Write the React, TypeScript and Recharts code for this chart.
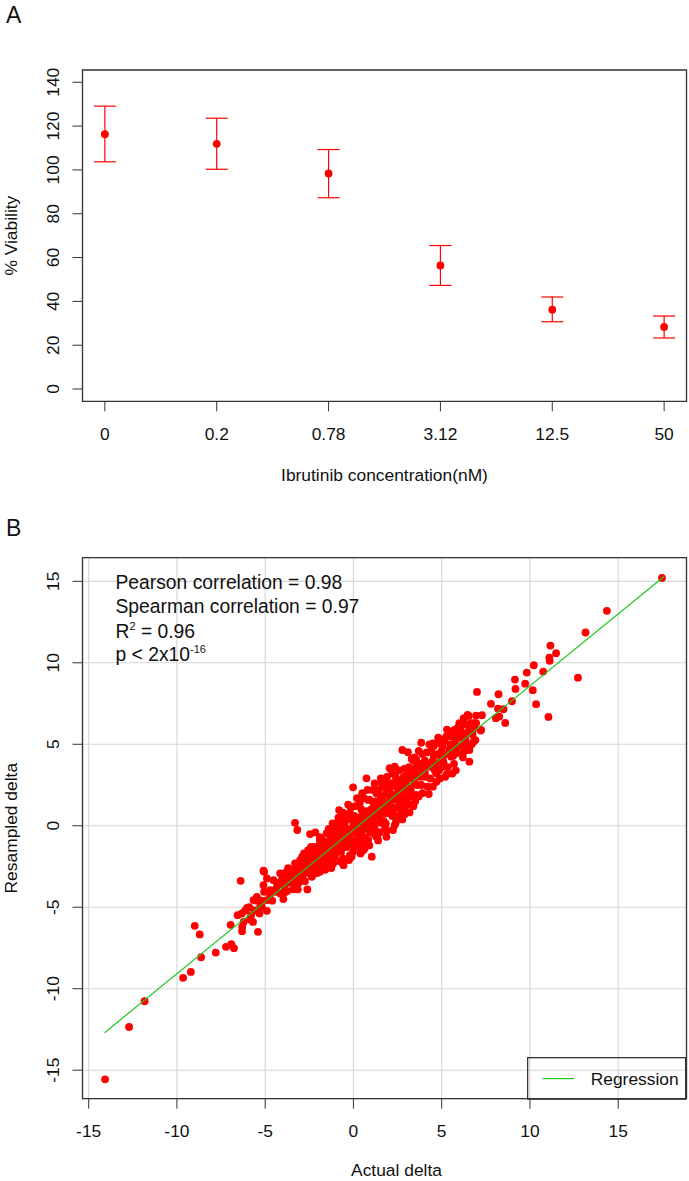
import {
  ComposedChart,
  Scatter,
  XAxis,
  YAxis,
  ErrorBar,
  CartesianGrid,
  ReferenceArea,
  Label,
  Legend,
} from 'recharts';

const FONT = '"Liberation Sans", Arial, Helvetica, sans-serif';
const RED = '#ff0000';
const GREEN = '#1ec81e';
const INK = '#333333';
const TEXT = '#111111';

// panel A: viability by ibrutinib dose
const concLabels = ['0', '0.2', '0.78', '3.12', '12.5', '50'];
const viabilityMean = [116.3, 111.9, 98.4, 56.4, 36.2, 28.3];
const viabilityLow = [103.7, 100.3, 87.3, 47.3, 30.7, 23.3];
const viabilityHigh = [129.1, 123.6, 109.3, 65.5, 42.0, 33.3];
const viabilityTicks = [0, 20, 40, 60, 80, 100, 120, 140];

// panel B: actual vs resampled delta
const deltaTicks = [-15, -10, -5, 0, 5, 10, 15];
const regressionX = [-14.1, 17.6];
const regressionY = [-12.7, 15.3];
const statLines = ['Pearson correlation = 0.98', 'Spearman correlation = 0.97'];

// [actual, resampled]
const deltaPoints: [number, number][] = [
  // lower tail
  [-14.07, -15.56], [-12.71, -12.35], [-11.83, -10.77], [-9.65, -9.33], [-9.21, -8.97],
  [-8.99, -6.14], [-8.71, -6.67], [-8.63, -8.07], [-7.8, -7.78], [-7.22, -7.43],
  [-6.92, -7.27], [-6.77, -7.51], [-6.96, -6.08], [-6.39, -3.38], [-6.31, -6.47],
  [-5.41, -6.51],
  // -6.6 .. -3.5
  [-6.56, -5.49], [-6.32, -5.38], [-6.03, -5.04], [-6.22, -5.9], [-6.3, -6.2],
  [-5.85, -5.75], [-5.69, -5.9], [-5.51, -4.6], [-5.32, -5.38], [-5.19, -4.97],
  [-4.9, -5.22], [-5.06, -4.05], [-5.1, -3.64], [-5.06, -2.83], [-4.9, -3.23],
  [-4.72, -4.2], [-4.44, -4.05], [-4.15, -4.15], [-3.87, -3.54], [-3.97, -4.5],
  [-6.13, -5.2], [-5.66, -4.56], [-5.47, -4.36], [-5.28, -4.97], [-4.9, -4.56],
  [-5.1, -2.76], [-4.72, -3.95], [-4.34, -3.75], [-4.53, -3.34], [-4.06, -3.34],
  [-4.15, -2.92], [-3.87, -3.95], [-3.78, -2.83], [-3.59, -2.72],
  [-5.6, -5.2], [-5.8, -5.5], [-5.2, -4.6], [-5.9, -5.0], [-4.5, -4.0], [-4.6, -4.6], [-4.3, -3.5],
  // -4 .. 0
  [-3.31, -2.31], [-3.02, -2.52], [-3.02, -2.11], [-3.21, -3.13], [-2.61, -3.91],
  [-2.36, -3.13], [-2.65, -1.9], [-2.56, -1.49], [-2.27, -1.29], [-1.9, -2.83],
  [-1.9, -1.7], [-2.08, -2.11], [-1.61, -2.21], [-1.43, -1.29], [-1.15, -2.31],
  [-1.05, -1.7], [-0.96, -0.88], [-1.9, -0.88], [-1.52, -0.47], [-1.15, -0.06],
  [-0.58, 0.35], [-0.2, 0.76], [-0.39, -1.29], [-0.77, -0.26], [-0.56, -2.42],
  [-0.02, -1.6], [-0.2, -1.8],
  [-3.31, 0.18], [-3.18, -0.26], [-2.46, -0.51], [-2.16, -0.41], [-0.81, 0.96],
  [-1.18, 0.15], [-0.02, 2.36],
  [-4.0, -3.6], [-3.9, -4.1], [-3.8, -3.3], [-3.5, -3.0], [-3.6, -3.5], [-3.4, -3.9],
  [-3.3, -2.8], [-3.0, -2.7], [-2.9, -3.2], [-3.1, -3.5], [-2.8, -2.4], [-2.5, -2.0],
  [-2.6, -2.6], [-2.4, -2.9], [-2.3, -1.7], [-2.45, -2.3], [-2.0, -1.5], [-2.1, -2.4],
  [-1.95, -2.0], [-1.8, -1.3], [-2.2, -1.6], [-1.85, -2.6], [-1.5, -1.0], [-1.6, -1.8],
  [-1.45, -2.4], [-1.35, -1.4], [-1.7, -1.2], [-1.3, -0.7], [-1.0, -0.6], [-1.1, -1.2],
  [-0.9, -1.6], [-1.2, -0.3], [-0.8, -0.9], [-1.05, -1.9], [-0.5, -0.2], [-0.6, -0.9],
  [-0.4, -1.3], [-0.45, 0.3], [-0.3, -0.6], [-0.7, -0.1],
  [-2.7, -2.2], [-2.2, -2.7], [-1.7, -2.0], [-1.2, -1.5], [-0.7, -1.6], [-0.2, -0.5],
  [-3.7, -2.6], [-3.3, -3.6], [-2.9, -1.9], [-2.4, -1.3], [-1.9, -0.7], [-1.4, -0.2],
  [-0.9, 0.2], [-0.4, 0.7], [-0.6, -2.0], [-0.1, -1.9],
  [-3.95, -3.2], [-3.75, -4.0], [-3.65, -3.0], [-3.45, -3.3], [-3.25, -2.5], [-3.15, -3.9],
  [-3.05, -3.0], [-3.85, -2.9], [-2.95, -2.3], [-2.85, -2.9], [-2.75, -3.4], [-2.65, -2.3],
  [-2.55, -2.9], [-2.35, -2.4], [-2.25, -2.2], [-2.15, -1.9], [-2.05, -2.9], [-2.5, -1.6],
  [-2.8, -1.7], [-2.3, -3.0], [-1.95, -1.2], [-1.85, -1.9], [-1.75, -2.4], [-1.65, -1.5],
  [-1.55, -1.2], [-1.45, -1.7], [-1.35, -2.0], [-1.25, -1.0], [-1.15, -1.5], [-1.05, -0.9],
  [-1.75, -0.9], [-1.25, -2.6], [-1.6, -2.7], [-1.35, -0.4], [-1.9, -2.3], [-0.95, -1.2],
  [-0.85, -0.5], [-0.75, -1.2], [-0.65, -0.6], [-0.55, -1.1], [-0.45, -0.8], [-0.35, -0.2],
  [-0.25, -1.0], [-0.15, -0.4], [-0.05, -1.2], [-0.85, 0.5], [-0.6, 0.8], [-0.3, 1.3],
  [-0.1, 0.4], [-0.75, -2.2], [-0.25, -2.1], [-0.5, 0.0],
  // 0 .. 4
  [0.36, 1.38], [0.83, 1.58], [1.3, 1.99], [1.68, 2.4], [2.24, 2.6], [2.71, 2.19],
  [1.3, 1.17], [1.49, 0.55], [1.87, 0.76], [2.24, 0.96], [2.62, 1.17], [0.17, -0.47],
  [0.55, 0.15], [1.04, -1.9], [0.64, -1.39], [1.3, -0.68], [1.87, -0.68], [2.24, -0.26],
  [2.77, 0.39], [3.18, 0.82], [3.0, 1.58], [1.68, 0.15], [1.11, 0.15], [0.83, -0.88],
  [0.46, -0.98], [0.74, 2.91], [1.55, 2.91], [1.43, 2.19], [2.05, 3.53], [2.34, 3.62],
  [3.18, 1.78], [2.8, 1.58], [3.0, 1.27], [2.62, 0.55], [2.34, 0.04], [1.83, 0.15],
  [1.34, -0.68],
  [0.0, 0.1], [0.1, -0.4], [-0.1, -0.9], [0.05, 0.6], [0.2, 0.2], [0.15, -1.2],
  [-0.15, 1.1], [0.5, 0.6], [0.6, -0.2], [0.45, 1.0], [0.4, -0.6], [0.7, 0.3],
  [0.55, -1.5], [1.0, 1.0], [1.1, 0.4], [0.9, 1.6], [1.2, -0.2], [0.95, 0.2],
  [1.15, 1.3], [1.5, 1.4], [1.6, 0.8], [1.4, 2.0], [1.7, 0.3], [1.55, 1.8],
  [1.35, 0.7], [2.0, 1.9], [2.1, 1.2], [1.9, 2.6], [2.2, 0.6], [2.05, 2.2],
  [2.3, 1.6], [2.5, 2.3], [2.6, 1.5], [2.4, 3.0], [2.7, 0.9], [2.55, 2.8],
  [2.45, 1.9], [3.0, 2.8], [3.1, 2.0], [2.9, 3.5], [3.2, 1.3], [3.05, 3.2],
  [2.95, 2.5], [3.5, 3.2], [3.6, 2.5], [3.4, 4.0], [3.7, 1.8], [3.55, 3.6], [3.3, 2.9],
  [0.3, 0.0], [0.8, 0.5], [1.3, 0.9], [1.8, 1.3], [0.1, 1.2], [0.6, 1.7], [1.1, 2.2],
  [0.4, -1.7], [0.9, -1.2], [1.4, -0.9], [1.9, -0.3], [2.4, 0.2], [2.9, 0.7], [3.4, 1.2],
  [0.05, -0.2], [0.15, 0.4], [0.25, -0.8], [0.35, 0.5], [0.45, -0.3], [0.55, 0.6],
  [0.65, -0.7], [0.75, 0.9], [0.85, 0.0], [0.95, 0.8], [0.2, 1.7], [0.5, 2.0],
  [0.8, 2.2], [0.3, -1.3], [0.7, -1.0], [0.95, -0.4], [1.05, 0.7], [1.15, -0.5],
  [1.25, 1.5], [1.35, 1.1], [1.45, 0.2], [1.55, 1.0], [1.65, 1.6], [1.75, 0.9],
  [1.85, 2.0], [1.95, 0.9], [1.2, 2.6], [1.6, 2.6], [1.9, 3.0], [1.5, -0.4],
  [1.8, -0.1], [2.05, 1.5], [2.15, 2.6], [2.25, 1.9], [2.35, 1.1], [2.45, 2.4],
  [2.55, 1.2], [2.65, 2.6], [2.75, 1.8], [2.85, 3.0], [2.95, 1.5], [2.2, 3.2],
  [2.6, 3.4], [2.5, 0.6], [2.85, 1.0], [3.05, 2.4], [3.15, 3.6], [3.25, 2.2],
  [3.35, 3.4], [3.45, 2.6], [3.55, 1.9], [3.65, 3.0], [3.75, 3.8], [3.85, 2.5],
  [3.95, 3.3], [3.3, 4.1], [3.7, 4.6], [3.5, 1.5], [3.9, 2.0],
  // 4 .. 8.6
  [2.77, 4.65], [3.09, 4.51], [3.84, 5.1], [3.47, 4.2], [4.27, 1.95], [5.29, 3.16],
  [6.57, 3.93], [7.23, 5.88], [4.5, 5.06], [5.72, 5.88], [6.47, 6.8], [6.38, 5.06],
  [6.57, 4.65], [6.19, 4.45], [5.82, 4.45], [5.54, 4.24], [5.06, 4.34], [4.88, 5.06],
  [5.25, 5.47], [4.41, 3.62], [4.69, 3.22], [5.06, 3.62], [3.84, 3.42], [3.56, 4.04],
  [4.0, 3.6], [4.1, 3.0], [3.9, 4.4], [4.2, 2.4], [4.05, 4.0], [3.85, 3.0],
  [4.5, 4.0], [4.6, 3.4], [4.4, 4.6], [4.7, 2.7], [4.55, 4.3], [5.0, 4.6],
  [5.1, 3.9], [4.9, 5.3], [5.2, 3.0], [5.05, 4.9], [5.5, 5.0], [5.6, 4.4],
  [5.4, 5.7], [5.7, 3.8], [5.55, 4.8], [6.0, 5.4], [6.1, 4.9], [5.9, 6.0], [6.2, 4.2],
  [4.05, 3.3], [4.15, 4.5], [4.25, 3.7], [4.35, 2.9], [4.45, 3.9], [4.55, 4.9],
  [4.65, 3.8], [4.75, 4.4], [4.85, 3.4], [4.95, 4.0], [4.3, 5.0], [4.8, 5.4],
  [4.5, 2.4], [4.9, 2.9], [5.05, 4.1], [5.15, 5.2], [5.25, 4.4], [5.35, 3.6],
  [5.45, 4.7], [5.55, 5.5], [5.65, 4.3], [5.75, 5.2], [5.85, 4.8], [5.95, 5.6],
  [5.3, 5.9], [5.8, 3.4], [5.6, 3.2], [6.05, 5.9], [6.15, 5.5], [6.25, 6.6],
  [6.35, 5.3], [6.45, 6.2], [6.65, 6.3], [6.75, 5.6], [6.85, 6.0], [6.95, 6.3],
  [6.3, 4.6], [6.7, 5.0],
  [7.21, 5.84], [7.28, 6.78], [6.95, 6.76], [6.53, 6.74], [6.8, 6.29], [6.0, 6.29],
  [6.19, 6.19], [5.82, 5.88], [6.38, 5.68], [6.57, 5.98], [6.8, 5.16], [6.91, 5.26],
  [5.37, 5.47], [7.0, 8.21], [7.79, 7.48], [8.19, 7.19], [8.5, 7.15], [8.26, 6.7],
  [8.07, 6.6], [8.6, 6.31],
  // upper tail
  [8.22, 8.07], [8.98, 7.64], [9.15, 8.97], [9.18, 8.4], [9.73, 8.72], [9.82, 9.4],
  [10.16, 8.32], [10.35, 7.46], [10.22, 9.85], [10.75, 9.46], [11.05, 6.68], [11.1, 10.32],
  [11.12, 10.12], [11.48, 10.59], [11.16, 11.06], [12.72, 9.09], [13.15, 11.86],
  [14.36, 13.19], [17.48, 15.21],
];

const doseData = concLabels.map((label, i) => ({
  pos: i + 1,
  label,
  mean: viabilityMean[i],
  err: [viabilityMean[i] - viabilityLow[i], viabilityHigh[i] - viabilityMean[i]],
}));
const scatterData = deltaPoints.map(([x, y]) => ({ x, y }));
const regressionData = regressionX.map((x, i) => ({ x, y: regressionY[i] }));

function YTick({ x, y, payload }: any) {
  return (
    <text
      x={x}
      y={y}
      transform={`rotate(-90 ${x} ${y})`}
      textAnchor="middle"
      fontSize={17.4}
      fontFamily={FONT}
      fill={TEXT}
    >
      {payload.value}
    </text>
  );
}

function RedDot({ cx, cy }: any) {
  return <circle cx={cx} cy={cy} r={3.9} fill={RED} />;
}

function NoMark() {
  return <g />;
}

const xTitle = (text: string, shift = 0, down = 80) => (props: any) => {
  const { x, y, width } = props.viewBox;
  return (
    <text x={x + width / 2 + shift} y={y + down} textAnchor="middle" fontSize={17.4} fontFamily={FONT} fill={TEXT}>
      {text}
    </text>
  );
};

const yTitle = (text: string) => (props: any) => {
  const { x, y, height } = props.viewBox;
  const tx = x + 17;
  const cy = y + height / 2;
  return (
    <text x={tx} y={cy} transform={`rotate(-90 ${tx} ${cy})`} textAnchor="middle" fontSize={17.4} fontFamily={FONT} fill={TEXT}>
      {text}
    </text>
  );
};

function StatsText(props: any) {
  const { x, y } = props.viewBox;
  const tx = x + 33;
  const style = { fontSize: 19.3, fontFamily: FONT, fill: TEXT };
  return (
    <g>
      {statLines.map((line, i) => (
        <text key={line} x={tx} y={y + 31.3 + i * 24.3} {...style}>
          {line}
        </text>
      ))}
      <text x={tx} y={y + 80} {...style}>
        R
        <tspan dy={-8} fontSize={11}>2</tspan>
        <tspan dy={8}> = 0.96</tspan>
      </text>
      <text x={tx} y={y + 103.5} {...style}>
        p {'<'} 2x10
        <tspan dy={-8} fontSize={11}>-16</tspan>
      </text>
    </g>
  );
}

function RegressionLegend({ payload }: any) {
  const items = (payload || []).filter((p: any) => p.type !== 'none');
  return (
    <svg width={160} height={43} style={{ display: 'block' }}>
      <rect x={0.65} y={0.65} width={158} height={41.5} fill="none" stroke={INK} strokeWidth={1.3} />
      {items.map((item: any) => (
        <g key={item.value}>
          <line x1={15.5} x2={47} y1={21.6} y2={21.6} stroke={GREEN} strokeWidth={1.2} />
          <text x={63.7} y={28.3} fontSize={17.4} fontFamily={FONT} fill={TEXT}>
            {item.value}
          </text>
        </g>
      ))}
    </svg>
  );
}

export default function App() {
  return (
    <div style={{ position: 'relative', width: 689, height: 1181, background: '#fff', fontFamily: FONT }}>
      <style>{'body { margin: 0; }'}</style>

      <ComposedChart
        width={689}
        height={510}
        data={doseData}
        margin={{ top: 70, right: 2.5, bottom: 48.7, left: 0 }}
      >
        <XAxis
          dataKey="pos"
          type="number"
          domain={[0.8, 6.2]}
          ticks={[1, 2, 3, 4, 5, 6]}
          tickFormatter={(v: number) => concLabels[v - 1]}
          allowDataOverflow
          height={60}
          axisLine={false}
          tickSize={10}
          tickMargin={16}
          tickLine={{ stroke: INK }}
          tick={{ fontSize: 17.4, fill: TEXT, fontFamily: FONT }}
          label={<Label content={xTitle('Ibrutinib concentration(nM)')} />}
        />
        <YAxis
          dataKey="mean"
          type="number"
          domain={[-5.6, 145.6]}
          ticks={viabilityTicks}
          allowDataOverflow
          width={82.5}
          axisLine={false}
          tickSize={10}
          tickMargin={13}
          tickLine={{ stroke: INK }}
          tick={<YTick />}
          label={<Label content={yTitle('% Viability')} />}
        />
        <ReferenceArea
          x1={0.8}
          x2={6.2}
          y1={-5.6}
          y2={145.6}
          fill="none"
          stroke={INK}
          strokeWidth={1.3}
          ifOverflow="visible"
        />
        <Scatter dataKey="mean" shape={<RedDot />} isAnimationActive={false}>
          <ErrorBar dataKey="err" direction="y" width={11} stroke={RED} strokeWidth={1.2} />
        </Scatter>
      </ComposedChart>

      <ComposedChart
        width={689}
        height={671}
        margin={{ top: 47.7, right: 2.5, bottom: 22.3, left: 0 }}
      >
        <CartesianGrid stroke="#d6d6d6" strokeWidth={1.1} />
        <XAxis
          dataKey="x"
          type="number"
          domain={[-15.35, 18.87]}
          ticks={deltaTicks}
          allowDataOverflow
          height={60}
          axisLine={false}
          tickSize={10}
          tickMargin={16}
          tickLine={{ stroke: INK }}
          tick={{ fontSize: 17.4, fill: TEXT, fontFamily: FONT }}
          label={<Label content={xTitle('Actual delta', 12, 77)} />}
        />
        <YAxis
          dataKey="y"
          type="number"
          domain={[-16.75, 16.45]}
          ticks={deltaTicks}
          allowDataOverflow
          width={82.5}
          axisLine={false}
          tickSize={10}
          tickMargin={13}
          tickLine={{ stroke: INK }}
          tick={<YTick />}
          label={<Label content={yTitle('Resampled delta')} />}
        />
        <ReferenceArea
          x1={-15.35}
          x2={18.87}
          y1={-16.75}
          y2={16.45}
          fill="none"
          stroke={INK}
          strokeWidth={1.3}
          ifOverflow="visible"
          label={<Label content={StatsText} />}
        />
        <Scatter
          data={scatterData}
          shape={<RedDot />}
          legendType="none"
          isAnimationActive={false}
        />
        <Scatter
          data={regressionData}
          name="Regression"
          fill={GREEN}
          line={{ stroke: GREEN, strokeWidth: 1.2 }}
          shape={<NoMark />}
          legendType="line"
          isAnimationActive={false}
        />
        <Legend
          layout="horizontal"
          align="center"
          verticalAlign="middle"
          content={<RegressionLegend />}
          wrapperStyle={{ position: 'absolute', left: 527, top: 546.7, width: 160, height: 43 }}
        />
      </ComposedChart>

      <svg width={689} height={1181} style={{ position: 'absolute', left: 0, top: 0, pointerEvents: 'none' }}>
        <text x={6} y={23} fontSize={23} fontFamily={FONT} fill={TEXT}>A</text>
        <text x={6} y={536} fontSize={23} fontFamily={FONT} fill={TEXT}>B</text>
      </svg>
    </div>
  );
}
